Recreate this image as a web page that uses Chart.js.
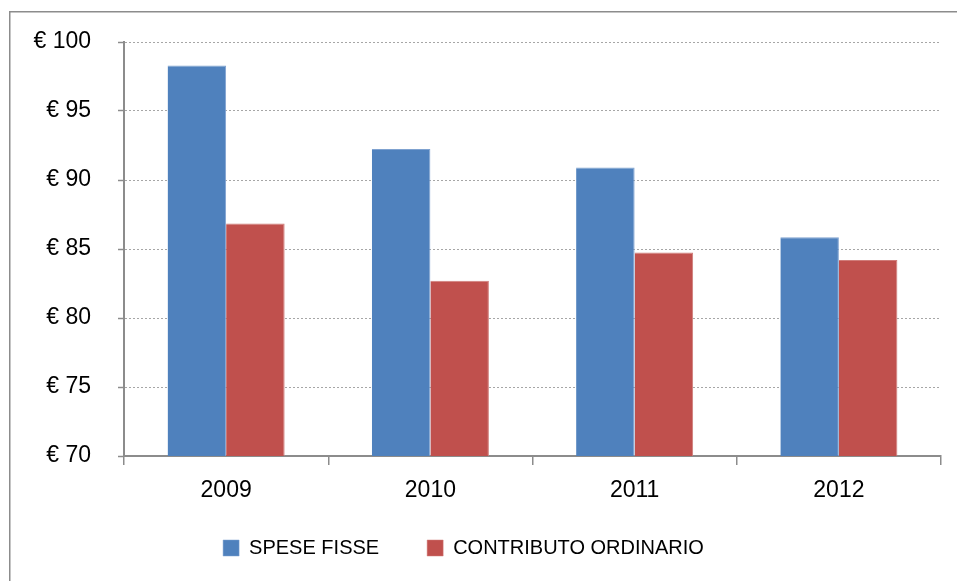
<!DOCTYPE html>
<html>
<head>
<meta charset="utf-8">
<script src="https://cdn.jsdelivr.net/npm/chart.js@4"></script>
<style>
html,body{margin:0;padding:0;background:#fff;}
#wrap{width:957px;height:581px;position:relative;}
</style>
</head>
<body>
<div id="wrap"><canvas id="c" width="957" height="581"></canvas></div>
<script>
const categories = ['2009', '2010', '2011', '2012'];
const speseFisse = [98.3, 92.25, 90.9, 85.85];
const contributoOrdinario = [86.85, 82.7, 84.75, 84.2];
const yTicks = [70, 75, 80, 85, 90, 95, 100];

const FONT = '"Liberation Sans", Arial, sans-serif';

const borderPlugin = {
  id: 'outerBorder',
  beforeDraw(chart) {
    const ctx = chart.ctx;
    ctx.save();
    ctx.fillStyle = '#fff';
    ctx.fillRect(0, 0, chart.width, chart.height);
    ctx.strokeStyle = '#8c8c8c';
    ctx.lineWidth = 1.5;
    ctx.strokeRect(9.75, 11.75, 1000, 1000);
    ctx.restore();
  }
};

const legendShift = {
  id: 'legendShift',
  afterLayout(chart) {
    const lg = chart.legend;
    if (lg) { lg.top -= 13; lg.bottom -= 13; lg.left -= 7; lg.right -= 7; }
  }
};

new Chart(document.getElementById('c'), {
  type: 'bar',
  data: {
    labels: categories,
    datasets: [
      { label: 'SPESE FISSE', data: speseFisse, backgroundColor: '#4F81BD', borderColor: '#7fa2d0', borderWidth: {right: 1, top: 1}, borderSkipped: 'bottom' },
      { label: 'CONTRIBUTO ORDINARIO', data: contributoOrdinario, backgroundColor: '#C0504D', borderColor: '#d07c79', borderWidth: {right: 1, top: 1}, borderSkipped: 'bottom' }
    ]
  },
  options: {
    responsive: false,
    animation: false,
    devicePixelRatio: 1,
    layout: { padding: { top: 42, right: 16, left: 0, bottom: 0 } },
    datasets: { bar: { categoryPercentage: 0.573, barPercentage: 1.0 } },
    plugins: {
      tooltip: { enabled: false },
      legend: {
        position: 'bottom',
        labels: {
          font: { family: FONT, size: 20 },
          color: '#000',
          boxWidth: 16,
          boxHeight: 16,
          padding: 48,
          useBorderRadius: false
        }
      }
    },
    scales: {
      x: {
        grid: { offset: true, drawOnChartArea: false, color: '#8c8c8c', tickLength: 9, lineWidth: 1.5 },
        border: { color: '#8c8c8c', width: 2 },
        ticks: { font: { family: FONT, size: 23 }, color: '#000', padding: 12 },
        afterFit(scale) { scale.height = 47; }
      },
      y: {
        min: 70, max: 100,
        afterBuildTicks(scale) { scale.ticks = yTicks.map(v => ({ value: v })); },
        grid: { color: '#a6a6a6', tickLength: 6, tickColor: '#8c8c8c', tickWidth: 1.5, lineWidth: 1 },
        border: { color: '#8c8c8c', width: 2, dash: [2, 2] },
        ticks: {
          font: { family: FONT, size: 23 },
          color: '#000',
          padding: 27,
          callback: v => '€ ' + v
        },
        afterFit(scale) { scale.width = 124; }
      }
    }
  },
  plugins: [borderPlugin, legendShift]
});
</script>
</body>
</html>
